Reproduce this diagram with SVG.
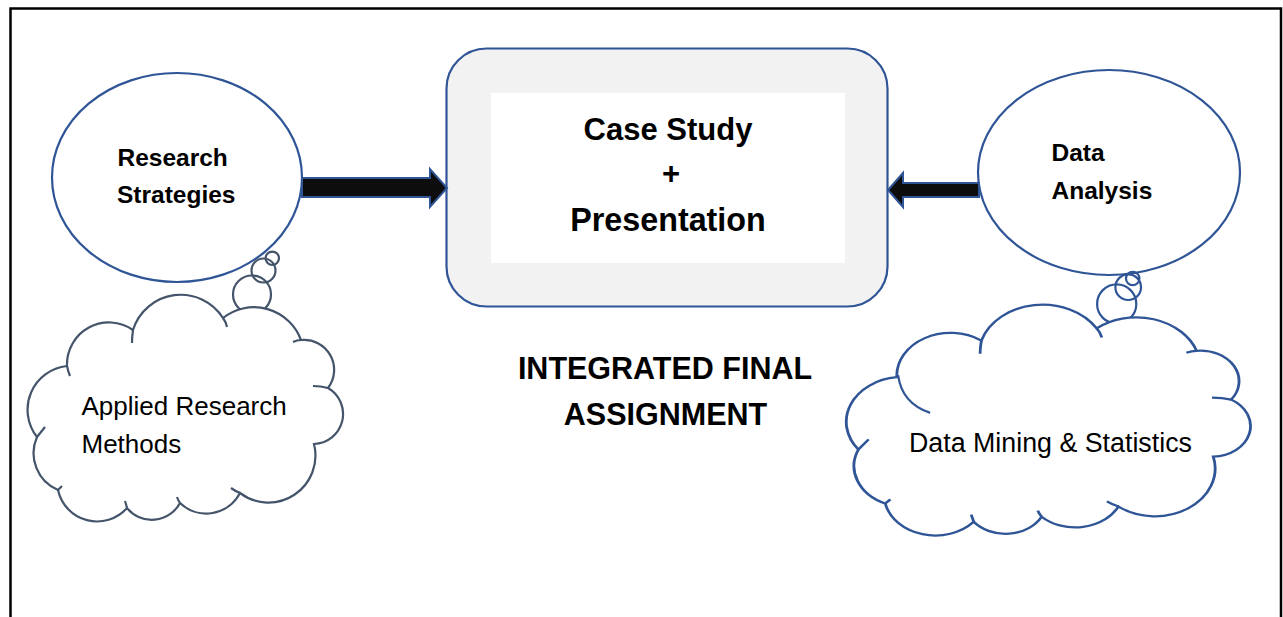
<svg xmlns="http://www.w3.org/2000/svg" xmlns:xlink="http://www.w3.org/1999/xlink" width="1283" height="617" viewBox="0 0 1283 617">
<style>
.frame{fill:none;stroke:#000;stroke-width:2.5}
.oval{fill:#fff;stroke:#2F5597;stroke-width:2.2}
.box{fill:#F2F2F2;stroke:#2F5597;stroke-width:2.2}
.inner{fill:#fff}
.arrow{fill:#0D0D0D;stroke:#2F5597;stroke-width:2}
.bub-gray{fill:none;stroke:#44546A;stroke-width:2.2}
.bub-blue{fill:none;stroke:#2F5597;stroke-width:2.2}
.cbody{fill:#fff;stroke-width:2.2;vector-effect:non-scaling-stroke}
.ctail{fill:none;stroke-width:2.2;vector-effect:non-scaling-stroke}
.b{font-family:"Liberation Sans",Arial,sans-serif;font-weight:bold;fill:#000}
.r{font-family:"Liberation Sans",Arial,sans-serif;fill:#000}
</style>
<defs>
<path id="cloudBody" d="M133,330 A50,50 0 0,1 223,318 A50,50 0 0,1 301,340 A30,30 0 0,1 328,388 A30,30 0 0,1 314,444 A47,47 0 0,1 240,493 A38,38 0 0,1 180,503 A32,32 0 0,1 127,508 A40,40 0 0,1 58,490 A40,40 0 0,1 37,437 A44,44 0 0,1 67,366 A42,42 0 0,1 133,330 Z"/>
<path id="cloudTails" d="M133,330 Q132,337 132,343 M223,318 Q226,322 227,327 M301,340 Q297,340 293,342 M328,388 Q321,386 313,386 M240,493 Q235,491 231,488 M180,503 Q178,500 177,497 M127,508 Q126,504 125,501 M58,490 Q60,488 62,486 M37,437 Q41,432 45,427"/>
</defs>
<path class="frame" d="M10.5,617 V8.5 H1281 V617"/>
<g id="research-strategies">
<ellipse class="oval" cx="177" cy="177.5" rx="125" ry="104.5"/>
<text class="b" font-size="24.5" x="117.5" y="166">Research</text>
<text class="b" font-size="24.5" x="117" y="203">Strategies</text>
</g>
<g id="case-study">
<rect class="box" x="446.5" y="48.5" width="441" height="258" rx="40" ry="40"/>
<rect class="inner" x="491" y="93" width="354" height="170"/>
<text class="b" font-size="31" x="668" y="140" text-anchor="middle">Case Study</text>
<text class="b" font-size="31" x="671" y="184" text-anchor="middle">+</text>
<text class="b" font-size="32.3" x="668" y="231" text-anchor="middle">Presentation</text>
</g>
<g id="data-analysis">
<ellipse class="oval" cx="1109" cy="172.5" rx="131" ry="102.5"/>
<text class="b" font-size="24.5" x="1051.5" y="161">Data</text>
<text class="b" font-size="24.5" x="1051.5" y="199">Analysis</text>
</g>
<g id="title">
<text class="b" font-size="30.5" x="665" y="379" text-anchor="middle">INTEGRATED FINAL</text>
<text class="b" font-size="30.5" x="665.5" y="425" text-anchor="middle">ASSIGNMENT</text>
</g>
<g id="applied-research-methods">
<circle class="bub-gray" cx="272.3" cy="258.3" r="6.7"/>
<circle class="bub-gray" cx="263.5" cy="270.5" r="12"/>
<circle class="bub-gray" cx="252" cy="294.5" r="19"/>
<use xlink:href="#cloudBody" href="#cloudBody" class="cbody" stroke="#44546A"/>
<use xlink:href="#cloudTails" href="#cloudTails" class="ctail" stroke="#44546A"/>
<path class="ctail" stroke="#44546A" d="M67,366 Q68,371 70,376"/>
<text class="r" font-size="26" x="81.5" y="415">Applied Research</text>
<text class="r" font-size="26" x="81.5" y="453">Methods</text>
</g>
<g id="data-mining-statistics">
<circle class="bub-blue" cx="1132.7" cy="278.5" r="6.7"/>
<circle class="bub-blue" cx="1128.2" cy="287.2" r="12.8"/>
<circle class="bub-blue" cx="1116.7" cy="304" r="19.6"/>
<g transform="matrix(1.28125 0 0 1.018 810.97 4.65)">
<use xlink:href="#cloudBody" href="#cloudBody" class="cbody" stroke="#2F5597"/>
<use xlink:href="#cloudTails" href="#cloudTails" class="ctail" stroke="#2F5597"/>
<path class="ctail" stroke="#2F5597" d="M68,364 Q71,392 93,401"/>
</g>
<text class="r" font-size="26.8" x="909" y="451.5">Data Mining &amp; Statistics</text>
</g>
<g id="connectors">
<polygon class="arrow" points="302,178 430,178 430,169 447,188 430,207 430,197 302,197"/>
<polygon class="arrow" points="979,183 903,183 903,173 888,190 903,207 903,197 979,197"/>
</g>
</svg>
